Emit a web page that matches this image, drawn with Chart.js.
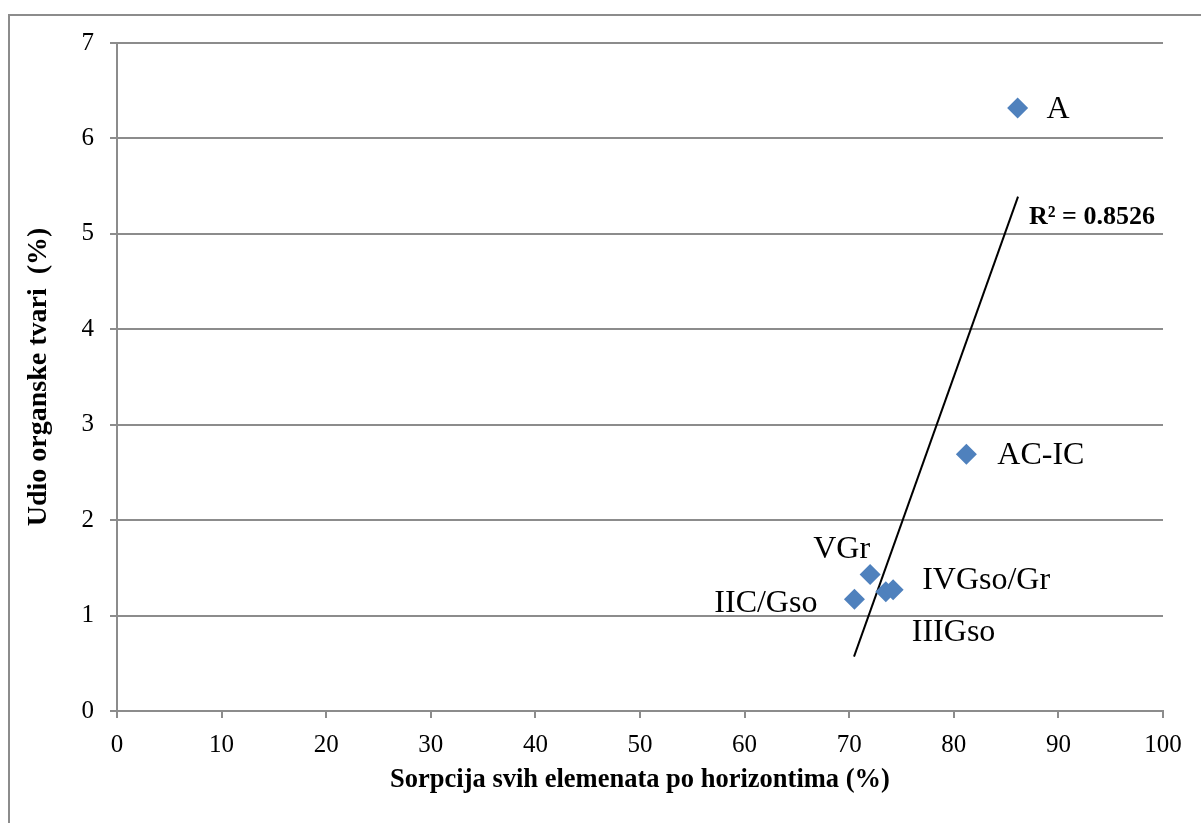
<!DOCTYPE html>
<html>
<head>
<meta charset="utf-8">
<script src="https://cdn.jsdelivr.net/npm/chart.js@4/dist/chart.umd.min.js"></script>
<style>
  body { margin: 0; background: #fff; }
  #wrap { position: relative; width: 1201px; height: 823px; overflow: hidden; }
  #frame { position: absolute; left: 8px; top: 14px; right: -10px; bottom: -10px;
           border-top: 2px solid #8c8c8c; border-left: 2px solid #8c8c8c; }
  canvas { position: absolute; left: 0; top: 0; }
</style>
</head>
<body>
<div id="wrap">
  <div id="frame"></div>
  <canvas id="myChart" width="1201" height="823"></canvas>
</div>
<script>
// horizons and their values
const horizons = ["A", "AC-IC", "VGr", "IIC/Gso", "IIIGso", "IVGso/Gr"];
const sorption = [86.1, 81.2, 72.0, 70.5, 73.5, 74.2];
const organic = [6.32, 2.69, 1.43, 1.17, 1.25, 1.27];

// linear trendline (ends)
const trendX = [70.46, 86.14];
const trendY = [0.57, 5.39];
const rSquared = "R² = 0.8526";

// where each name sits next to its point (px)
const labelOffsets = [
  { dx: 29, dy: 2, align: "left" },
  { dx: 31, dy: 1, align: "left" },
  { dx: 0, dy: -25, align: "right" },
  { dx: -37, dy: 4, align: "right" },
  { dx: 26, dy: 41, align: "left" },
  { dx: 29, dy: -9, align: "left" },
];

const serif = "'Liberation Serif', 'Times New Roman', serif";
const gray = "#8c8c8c";

/*names next to points + R² text*/
const pointLabels = {
  id: "pointLabels",
  afterDatasetsDraw(chart) {
    const ctx = chart.ctx;
    const pts = chart.getDatasetMeta(0).data;
    ctx.save();
    ctx.fillStyle = "#000";
    ctx.textBaseline = "middle";
    ctx.font = "32px " + serif;
    pts.forEach((p, i) => {
      const o = labelOffsets[i];
      ctx.textAlign = o.align;
      ctx.fillText(horizons[i], p.x + o.dx, p.y + o.dy);
    });
    const end = chart.getDatasetMeta(1).data[1];
    ctx.font = "bold 26px " + serif;
    ctx.textAlign = "left";
    ctx.fillText(rSquared, end.x + 11, end.y + 21);
    ctx.restore();
  },
};

let ctx = document.getElementById("myChart").getContext("2d");
let myChart = new Chart(ctx, {
  type: "scatter",
  data: {
    datasets: [
      {
        label: "horizonti",
        data: sorption.map((x, i) => ({ x: x, y: organic[i] })),
        pointStyle: "rectRot",
        pointRadius: 10.5,
        pointHoverRadius: 10.5,
        backgroundColor: "#4f81bd",
        borderColor: "#4f81bd",
        borderWidth: 0,
        order: 1,
      },
      {
        label: "trend",
        data: trendX.map((x, i) => ({ x: x, y: trendY[i] })),
        showLine: true,
        borderColor: "#000",
        borderWidth: 2,
        pointRadius: 0,
        fill: false,
        order: 2,
      },
    ],
  },
  options: {
    responsive: false,
    animation: false,
    devicePixelRatio: 1,
    layout: { padding: { top: 43, right: 38, left: 0, bottom: 0 } },
    plugins: { legend: { display: false }, tooltip: { enabled: false } },
    scales: {
      x: {
        type: "linear",
        min: 0,
        max: 100,
        afterFit: (s) => { s.height = 112; },
        ticks: { stepSize: 10, color: "#000", padding: 12, font: { family: serif, size: 25 } },
        grid: { drawOnChartArea: false, drawTicks: true, tickLength: 7, color: gray, lineWidth: 2 },
        border: { color: gray, width: 2 },
        title: {
          display: true,
          text: "Sorpcija svih elemenata po horizontima (%)",
          color: "#000",
          font: { family: serif, size: 26.5, weight: "bold" },
          padding: { top: 0, bottom: 27 },
        },
      },
      y: {
        min: 0,
        max: 7,
        afterFit: (s) => { s.width = 117; },
        ticks: { stepSize: 1, color: "#000", padding: 16, font: { family: serif, size: 25 } },
        grid: { tickLength: 7, color: gray, lineWidth: 2 },
        border: { color: gray, width: 2 },
        title: {
          display: true,
          text: "Udio organske tvari  (%)",
          color: "#000",
          font: { family: serif, size: 28, weight: "bold" },
          padding: { top: 22, bottom: 0 },
        },
      },
    },
  },
  plugins: [pointLabels],
});
</script>
</body>
</html>
